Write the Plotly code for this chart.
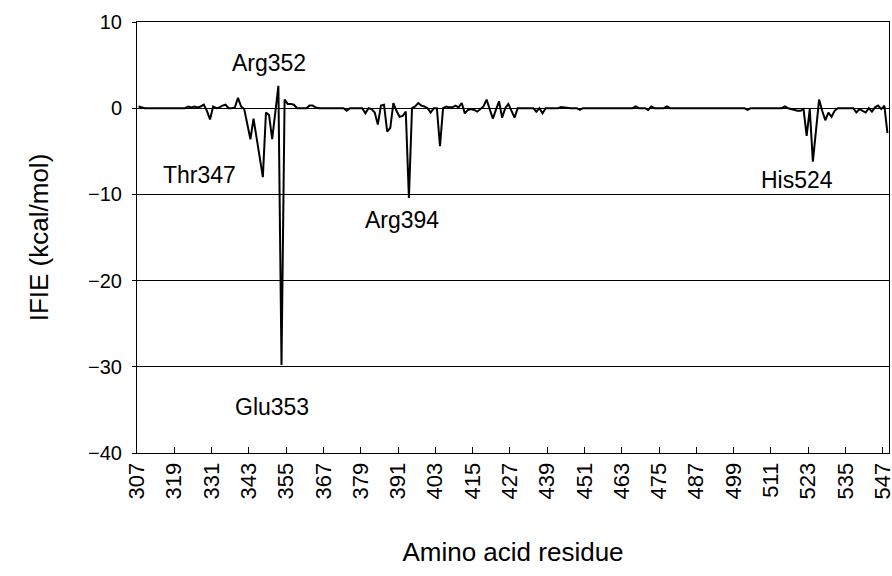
import plotly.graph_objects as go

# Residue numbers 307..548
residues = list(range(307, 549))

# IFIE values (kcal/mol), one per residue
ifie = [
    0.2, 0.1, 0, 0, 0, 0, 0, 0, 0, 0,                 # 307-316
    0, 0, 0, 0, 0, 0, 0.2, 0.1, 0.2, 0.1,             # 317-326
    0.2, 0.4, -0.3, -1.3, 0.2, 0.0, 0.1, 0.3, 0.4, 0.0,  # 327-336
    0.0, 0.1, 1.2, 0.2, -0.1, -1.8, -3.6, -1.2, -3.5, -5.8,  # 337-346
    -8.0, -0.5, -0.8, -3.6, -0.5, 2.6, -29.8, 1.0, 0.5, 0.5,  # 347-356
    0.4, 0, 0, 0, 0, 0.3, 0.3, 0.1, 0, 0,             # 357-366
    0, 0, 0, 0, 0, 0, 0, -0.3, 0, 0,                  # 367-376
    0, 0, 0, -0.6, 0.0, -0.1, -0.5, -1.9, 0.3, 0.4,   # 377-386
    -2.7, -2.3, 0.6, -0.3, -1.0, -0.9, -0.4, -10.4, 0.0, 0.2,  # 387-396
    0.6, 0.3, 0.2, 0.0, -0.5, 0.0, 0.0, -4.4, 0.0, 0.2,  # 397-406
    0.1, 0.1, 0.3, 0.1, 0.6, -0.6, -0.2, -0.1, -0.2, -0.4,  # 407-416
    -0.1, 0.2, 1.0, 0.0, -1.2, -0.2, 0.8, -1.1, 0.0, 0.5,  # 417-426
    -0.3, -1.1, 0, 0, 0, 0, 0, 0, -0.4, 0.0,          # 427-436
    -0.6, 0, 0, 0, 0, 0, 0.15, 0.1, 0, 0,             # 437-446
    0, 0, -0.2, 0, 0, 0, 0, 0, 0, 0,                  # 447-456
    0, 0, 0, 0, 0, 0, 0, 0, 0, 0,                     # 457-466
    0.2, 0, 0, 0, -0.2, 0.2, 0, 0, 0, 0,              # 467-476
    0.2, 0, 0, 0, 0, 0, 0, 0, 0, 0,                   # 477-486
    0, 0, 0, 0, 0, 0, 0, 0, 0, 0,                     # 487-496
    0, 0, 0, 0, 0, 0, -0.2, 0, 0, 0,                  # 497-506
    0, 0, 0, 0, 0, 0, 0, 0, 0.2, 0.0,                 # 507-516
    -0.1, -0.2, -0.3, -0.3, -0.1, -3.2, -0.1, -6.2, -2.5, 1.0,  # 517-526
    -0.3, -1.4, -0.5, -1.0, -0.3, 0, 0, 0, 0, 0,      # 527-536
    0, -0.5, -0.1, -0.3, -0.5, 0.0, -0.4, 0.1, 0.3, -0.1,  # 537-546
    0.3, -2.9,                                        # 547-548
]

# Tick labels
x_ticks = list(range(307, 548, 12))
y_ticks = [10, 0, -10, -20, -30, -40]

# Residue labels and their text positions (residue axis, kcal/mol)
label_text = ["Arg352", "Thr347", "Glu353", "Arg394", "His524"]
label_x = [349.1, 326.6, 349.8, 391.7, 518.9]
label_y = [5.2, -7.8, -34.7, -13.0, -8.3]

FONT = "Arial, Liberation Sans, sans-serif"

fig = go.Figure()
fig.add_trace(go.Scatter(
    x=residues, y=ifie, mode="lines",
    line=dict(color="black", width=2),
    showlegend=False, hoverinfo="skip",
))

for t, lx, ly in zip(label_text, label_x, label_y):
    fig.add_annotation(x=lx, y=ly, text=t, showarrow=False,
                       font=dict(family=FONT, size=23, color="black"))

fig.update_layout(
    width=892, height=576,
    margin=dict(l=137, r=3, t=22, b=123),
    plot_bgcolor="white", paper_bgcolor="white",
    font=dict(family=FONT, color="black"),
)

fig.update_xaxes(
    range=[306.5, 548.5],
    tickvals=[v - 0.5 for v in x_ticks], ticktext=[str(v) for v in x_ticks],
    tickangle=-90, tickfont=dict(size=22, family=FONT),
    ticklabeloverflow="allow",
    ticks="inside", ticklen=6, tickcolor="black", tickwidth=1,
    showgrid=False, zeroline=False,
    showline=True, linecolor="black", linewidth=1, mirror=True,
    title=dict(text="Amino acid residue", font=dict(size=26, family=FONT), standoff=44),
    automargin=False,
)
fig.update_yaxes(
    range=[-40, 10],
    tickvals=y_ticks,
    tickfont=dict(size=20, family=FONT),
    ticks="outside", ticklen=4, tickcolor="black", tickwidth=1,
    ticklabelstandoff=6,
    showgrid=True, gridcolor="black", gridwidth=1,
    zeroline=False,
    showline=True, linecolor="black", linewidth=1, mirror=True,
    title=dict(text="IFIE (kcal/mol)", font=dict(size=26, family=FONT), standoff=31),
    automargin=False,
)

fig.write_html(
    "out.html",
    config={"displayModeBar": False, "staticPlot": True},
    post_script="document.body.style.margin='0';document.body.style.overflow='hidden';",
)
